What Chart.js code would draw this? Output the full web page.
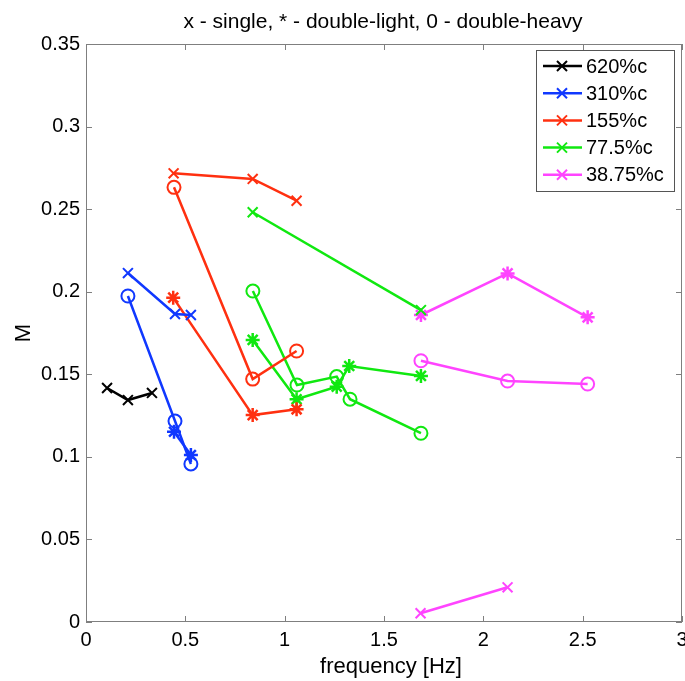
<!DOCTYPE html>
<html lang="en">
<head>
<meta charset="UTF-8">
<title>M vs frequency</title>
<style>
  body { margin: 0; background: #fff; }
  #wrap { width: 685px; height: 681px; }
</style>
</head>
<body>
<div id="wrap"><canvas id="myChart" width="685" height="681"></canvas></div>
<script src="https://cdn.jsdelivr.net/npm/chart.js@4/dist/chart.umd.min.js"></script>
<script>
// tick labels
const xTicks = [0, 0.5, 1, 1.5, 2, 2.5, 3];
const xTickLabels = ["0", "0.5", "1", "1.5", "2", "2.5", "3"];
const yTicks = [0, 0.05, 0.1, 0.15, 0.2, 0.25, 0.3, 0.35];
const yTickLabels = ["0", "0.05", "0.1", "0.15", "0.2", "0.25", "0.3", "0.35"];

// series (concentrations) and colours
const seriesNames = ["620%c", "310%c", "155%c", "77.5%c", "38.75%c"];
const seriesColors = ["#000000", "#1038ff", "#ff3010", "#10e810", "#ff44ff"];

// x - single
const singleF = [
  [0.106, 0.211, 0.332],
  [0.211, 0.448, 0.528],
  [0.441, 0.839, 1.06],
  [0.839, 1.686],
  [1.684, 2.122]
];
const singleM = [
  [0.1417, 0.1344, 0.1387],
  [0.2113, 0.1865, 0.1859],
  [0.2717, 0.2683, 0.2551],
  [0.2481, 0.1889],
  [0.0053, 0.021]
];

// * - double-light
const lightF = [
  [],
  [0.443, 0.528],
  [0.439, 0.839, 1.06],
  [0.839, 1.06, 1.262, 1.325, 1.686],
  [1.686, 2.122, 2.525]
];
const lightM = [
  [],
  [0.1152, 0.1011],
  [0.1964, 0.1253, 0.1288],
  [0.1708, 0.1349, 0.1425, 0.155, 0.149],
  [0.1859, 0.2111, 0.1845]
];

// o - double-heavy
const heavyF = [
  [],
  [0.211, 0.448, 0.528],
  [0.443, 0.839, 1.06],
  [0.84, 1.062, 1.262, 1.329, 1.686],
  [1.686, 2.122, 2.525]
];
const heavyM = [
  [],
  [0.1974, 0.1217, 0.0957],
  [0.2632, 0.1471, 0.1641],
  [0.2004, 0.1435, 0.1486, 0.1349, 0.1143],
  [0.1582, 0.1459, 0.1441]
];

const FONT = "'Liberation Sans', Arial, Helvetica, sans-serif";

function pts(fs, ms) {
  return fs.map((f, i) => ({ x: f, y: ms[i] }));
}

let datasets = [];
seriesNames.forEach((name, i) => {
  const c = seriesColors[i];
  datasets.push({
    label: name, data: pts(singleF[i], singleM[i]), borderColor: c, backgroundColor: c,
    pointStyle: "crossRot", pointRadius: 7, pointBorderWidth: 2, borderWidth: 2.5, showLine: true
  });
  if (lightF[i].length) datasets.push({
    label: name + " light", data: pts(lightF[i], lightM[i]), borderColor: c, backgroundColor: c,
    pointStyle: "star", pointRadius: 7, pointBorderWidth: 2.5, borderWidth: 2.5, showLine: true
  });
  if (heavyF[i].length) datasets.push({
    label: name + " heavy", data: pts(heavyF[i], heavyM[i]), borderColor: c, backgroundColor: "rgba(0,0,0,0)",
    pointStyle: "circle", pointRadius: 6.5, pointBorderWidth: 2, borderWidth: 2.5, showLine: true
  });
});

// box, inner ticks, titles and legend drawn matlab style
const matlabFrame = {
  id: "matlabFrame",
  afterDraw(chart) {
    const ctx = chart.ctx, a = chart.chartArea;
    const xs = chart.scales.x, ys = chart.scales.y;
    ctx.save();
    ctx.strokeStyle = "#7f7f7f";
    ctx.lineWidth = 1;
    ctx.strokeRect(a.left + 0.5, a.top + 0.5, a.right - a.left - 1, a.bottom - a.top - 1);
    ctx.beginPath();
    xTicks.forEach(v => {
      const px = Math.round(xs.getPixelForValue(v)) + 0.5;
      ctx.moveTo(px, a.bottom); ctx.lineTo(px, a.bottom - 6);
      ctx.moveTo(px, a.top); ctx.lineTo(px, a.top + 6);
    });
    yTicks.forEach(v => {
      const py = Math.round(ys.getPixelForValue(v)) + 0.5;
      ctx.moveTo(a.left, py); ctx.lineTo(a.left + 6, py);
      ctx.moveTo(a.right, py); ctx.lineTo(a.right - 6, py);
    });
    ctx.stroke();

    // titles
    ctx.fillStyle = "#000";
    ctx.font = "21px " + FONT;
    ctx.textAlign = "center";
    ctx.textBaseline = "alphabetic";
    ctx.fillText("x - single, * - double-light, 0 - double-heavy", 383, 28);
    ctx.font = "22px " + FONT;
    ctx.fillText("frequency [Hz]", 391, 673);
    ctx.save();
    ctx.translate(30, 333);
    ctx.rotate(-Math.PI / 2);
    ctx.fillText("M", 0, 0);
    ctx.restore();

    // legend
    const lx = 536, ly = 50, lw = 138, lh = 141;
    ctx.fillStyle = "#fff";
    ctx.fillRect(lx, ly, lw, lh);
    ctx.strokeStyle = "#555";
    ctx.strokeRect(lx + 0.5, ly + 0.5, lw, lh);
    ctx.font = "20px " + FONT;
    ctx.textAlign = "left";
    ctx.textBaseline = "middle";
    seriesNames.forEach((name, i) => {
      const y = 66 + i * 27.2;
      ctx.strokeStyle = seriesColors[i];
      ctx.lineWidth = 2.5;
      ctx.beginPath();
      ctx.moveTo(543, y); ctx.lineTo(582, y);
      ctx.stroke();
      ctx.lineWidth = 2;
      ctx.beginPath();
      ctx.moveTo(557, y - 5); ctx.lineTo(567, y + 5);
      ctx.moveTo(557, y + 5); ctx.lineTo(567, y - 5);
      ctx.stroke();
      ctx.fillStyle = "#000";
      ctx.fillText(name, 586, y + 1);
    });
    ctx.restore();
  }
};

new Chart("myChart", {
  type: "scatter",
  data: { datasets: datasets },
  options: {
    responsive: false,
    animation: false,
    layout: { autoPadding: false, padding: { top: 44, right: 3, left: 0, bottom: 0 } },
    plugins: { legend: { display: false }, title: { display: false }, tooltip: { enabled: false } },
    scales: {
      x: {
        type: "linear", min: 0, max: 3,
        afterBuildTicks: s => { s.ticks = xTicks.map(v => ({ value: v })); },
        afterFit: s => { s.height = 59; s.paddingLeft = 0; s.paddingRight = 0; },
        grid: { display: false, drawTicks: false },
        border: { display: false },
        ticks: {
          padding: 6, color: "#000", font: { family: FONT, size: 20 }, maxRotation: 0,
          callback: (v) => xTickLabels[xTicks.indexOf(v)]
        }
      },
      y: {
        type: "linear", min: 0, max: 0.35,
        afterBuildTicks: s => { s.ticks = yTicks.map(v => ({ value: v })); },
        afterFit: s => { s.width = 86; s.paddingTop = 0; s.paddingBottom = 0; },
        grid: { display: false, drawTicks: false },
        border: { display: false },
        ticks: {
          padding: 6, color: "#000", font: { family: FONT, size: 20 },
          callback: (v) => yTickLabels[yTicks.findIndex(t => Math.abs(t - v) < 1e-9)]
        }
      }
    }
  },
  plugins: [matlabFrame]
});
</script>
</body>
</html>
